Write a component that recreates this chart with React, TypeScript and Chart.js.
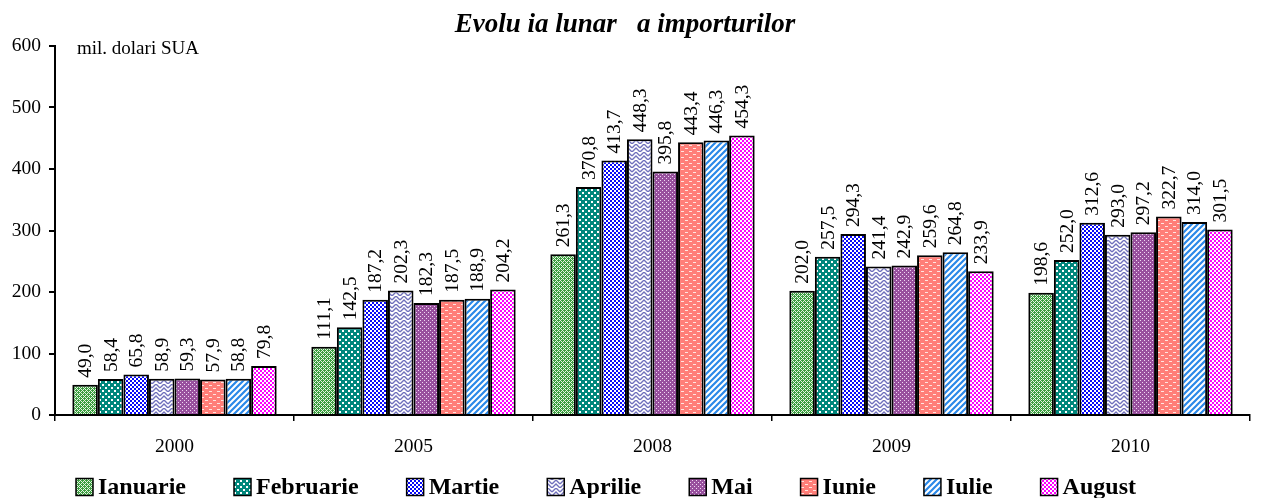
import React, { useEffect, useRef } from "react";
import { Chart, registerables } from "chart.js";

Chart.register(...registerables);

const titleText = "Evolu ia lunar   a importurilor";
const unitText = "mil. dolari SUA";
const years = ["2000", "2005", "2008", "2009", "2010"];
const months = ["Ianuarie", "Februarie", "Martie", "Aprilie", "Mai", "Iunie", "Iulie", "August"];

const ianuarie = [49.0, 111.1, 261.3, 202.0, 198.6];
const februarie = [58.4, 142.5, 370.8, 257.5, 252.0];
const martie = [65.8, 187.2, 413.7, 294.3, 312.6];
const aprilie = [58.9, 202.3, 448.3, 241.4, 293.0];
const mai = [59.3, 182.3, 395.8, 242.9, 297.2];
const iunie = [57.9, 187.5, 443.4, 259.6, 322.7];
const iulie = [58.8, 188.9, 446.3, 264.8, 314.0];
const august = [79.8, 204.2, 454.3, 233.9, 301.5];

const seriesValues = [ianuarie, februarie, martie, aprilie, mai, iunie, iulie, august];
const yTicks = [0, 100, 200, 300, 400, 500, 600];

const SERIF = "'Liberation Serif', 'Times New Roman', serif";

function makeTile(w: number, h: number, draw: (c: CanvasRenderingContext2D) => void) {
  const cv = document.createElement("canvas");
  cv.width = w;
  cv.height = h;
  const c = cv.getContext("2d")!;
  draw(c);
  return c.createPattern(cv, "repeat")!;
}

function makePatterns(): CanvasPattern[] {
  const px = (c: CanvasRenderingContext2D, col: string, pts: number[][]) => {
    c.fillStyle = col;
    pts.forEach(([x, y, w, h]) => c.fillRect(x, y, w ?? 1, h ?? 1));
  };
  return [
    makeTile(4, 4, (c) => {
      c.fillStyle = "#3c9e40";
      c.fillRect(0, 0, 4, 4);
      px(c, "#e4f4e2", [[0, 0], [1, 1], [2, 2], [3, 3], [1, 3], [3, 1]]);
    }),
    makeTile(6, 6, (c) => {
      c.fillStyle = "#00877c";
      c.fillRect(0, 0, 6, 6);
      px(c, "#ffffff", [[0, 0, 2, 2], [3, 3, 2, 2]]);
    }),
    makeTile(4, 4, (c) => {
      c.fillStyle = "#0808f8";
      c.fillRect(0, 0, 4, 4);
      px(c, "#ffffff", [[0, 0, 2, 2], [2, 2, 2, 2]]);
    }),
    makeTile(8, 8, (c) => {
      c.fillStyle = "#ffffff";
      c.fillRect(0, 0, 8, 8);
      c.strokeStyle = "#7070bc";
      c.lineWidth = 1.4;
      c.beginPath();
      c.moveTo(0, 4); c.lineTo(4, 0); c.lineTo(8, 4);
      c.moveTo(0, 8); c.lineTo(4, 4); c.lineTo(8, 8);
      c.stroke();
    }),
    makeTile(4, 4, (c) => {
      c.fillStyle = "#98509e";
      c.fillRect(0, 0, 4, 4);
      px(c, "#f0d8f2", [[0, 0], [2, 2]]);
    }),
    makeTile(8, 6, (c) => {
      c.fillStyle = "#ff7e78";
      c.fillRect(0, 0, 8, 6);
      px(c, "#ffe4e0", [[1, 1, 3, 1], [5, 4, 3, 1]]);
    }),
    makeTile(6, 6, (c) => {
      c.fillStyle = "#ffffff";
      c.fillRect(0, 0, 6, 6);
      c.strokeStyle = "#2a88e8";
      c.lineWidth = 2.2;
      c.beginPath();
      c.moveTo(-2, 8); c.lineTo(8, -2);
      c.moveTo(-5, 5); c.lineTo(5, -5);
      c.moveTo(1, 11); c.lineTo(11, 1);
      c.stroke();
    }),
    makeTile(4, 4, (c) => {
      c.fillStyle = "#ff00ff";
      c.fillRect(0, 0, 4, 4);
      px(c, "#ffffff", [[0, 0, 2, 2], [2, 2, 2, 2]]);
    }),
  ];
}

const fmt = (v: number) => v.toFixed(1).replace(".", ",");

const labelsPlugin = {
  id: "barValueLabels",
  afterDatasetsDraw(chart: any) {
    const ctx = chart.ctx as CanvasRenderingContext2D;
    ctx.save();
    ctx.fillStyle = "#000";
    ctx.font = `19.5px ${SERIF}`;
    ctx.textAlign = "left";
    ctx.textBaseline = "middle";
    chart.data.datasets.forEach((ds: any, i: number) => {
      const meta = chart.getDatasetMeta(i);
      meta.data.forEach((el: any, j: number) => {
        ctx.save();
        ctx.translate(el.x, el.y - 7);
        ctx.rotate(-Math.PI / 2);
        ctx.fillText(fmt(ds.data[j]), 0, 1);
        ctx.restore();
      });
    });
    ctx.restore();
  },
};

const unitPlugin = {
  id: "unitText",
  afterDraw(chart: any) {
    const ctx = chart.ctx as CanvasRenderingContext2D;
    const a = chart.chartArea;
    ctx.save();
    ctx.fillStyle = "#000";
    ctx.font = `19px ${SERIF}`;
    ctx.textAlign = "left";
    ctx.textBaseline = "middle";
    ctx.fillText(unitText, a.left + 22, a.top + 3);
    ctx.restore();
  },
};

const legendPlugin = {
  id: "customLegend",
  afterDraw(chart: any) {
    const ctx = chart.ctx as CanvasRenderingContext2D;
    ctx.save();
    ctx.font = `bold 24px ${SERIF}`;
    ctx.textBaseline = "middle";
    ctx.textAlign = "left";
    let x = 76;
    const y = 487;
    const box = 17;
    const boxGap = 5;
    const itemGap = 48;
    chart.data.datasets.forEach((ds: any) => {
      ctx.fillStyle = ds.backgroundColor;
      ctx.fillRect(x, y - box / 2, box, box);
      ctx.strokeStyle = "#000";
      ctx.lineWidth = 1.5;
      ctx.strokeRect(x, y - box / 2, box, box);
      ctx.fillStyle = "#000";
      ctx.fillText(ds.label, x + box + boxGap, y + 1);
      x += box + boxGap + ctx.measureText(ds.label).width + itemGap;
    });
    ctx.restore();
  },
};

export default function App() {
  const ref = useRef<HTMLCanvasElement>(null);
  useEffect(() => {
    const patterns = makePatterns();
    const chart = new Chart(ref.current!, {
      type: "bar",
      data: {
        labels: years,
        datasets: months.map((m, i) => ({
          label: m,
          data: seriesValues[i],
          backgroundColor: patterns[i] as any,
          borderColor: "#000",
          borderWidth: 2,
          barPercentage: 1,
          categoryPercentage: 0.855,
        })),
      },
      options: {
        animation: false,
        responsive: false,
        maintainAspectRatio: false,
        layout: { padding: { left: 0, right: 11, top: 0, bottom: 40 } },
        plugins: {
          legend: { display: false },
          tooltip: { enabled: false },
          title: {
            display: true,
            text: titleText,
            color: "#000",
            font: { family: SERIF, size: 27, weight: "bold", style: "italic", lineHeight: 1.2 },
            padding: { top: 9.3, bottom: 4.3 },
          },
        },
        scales: {
          x: {
            offset: true,
            grid: { display: true, drawOnChartArea: false, offset: true, tickLength: 6, color: "#000", lineWidth: 1.5 },
            border: { display: true, color: "#000", width: 2 },
            ticks: { color: "#000", font: { family: SERIF, size: 19.5 }, padding: 14, maxRotation: 0 },
            afterFit: (s: any) => { s.height = 43; },
          },
          y: {
            min: 0,
            max: 600,
            afterBuildTicks: (s: any) => { s.ticks = yTicks.map((v) => ({ value: v })); },
            grid: { display: true, drawOnChartArea: false, tickLength: 6, color: "#000", lineWidth: 2 },
            border: { display: true, color: "#000", width: 2 },
            ticks: { color: "#000", font: { family: SERIF, size: 19.5 }, padding: 8 },
            afterFit: (s: any) => { s.width = 55; },
          },
        },
      },
      plugins: [labelsPlugin, unitPlugin, legendPlugin],
    });
    return () => chart.destroy();
  }, []);
  return (
    <div style={{ position: "absolute", left: 0, top: 0, width: 1261, height: 498, background: "#fff" }}>
      <canvas ref={ref} width={1261} height={498} style={{ display: "block" }} />
    </div>
  );
}
